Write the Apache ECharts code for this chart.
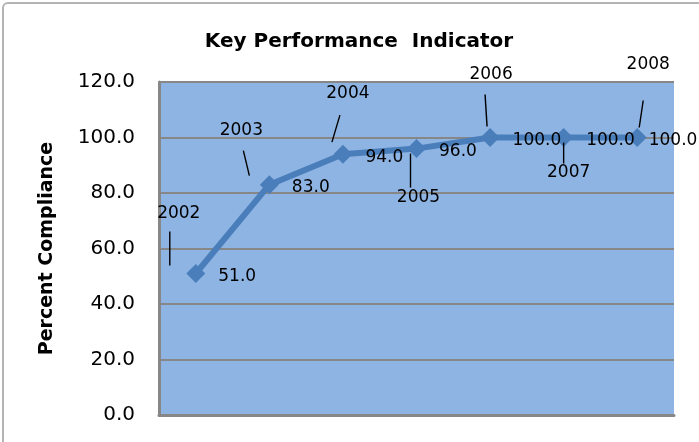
<!DOCTYPE html>
<html>
<head>
<meta charset="utf-8">
<script src="https://cdn.jsdelivr.net/npm/echarts@6/dist/echarts.min.js"></script>
<style>
  html, body { margin: 0; padding: 0; background: #fff; overflow: hidden; }
  #chart { width: 699px; height: 442px; }
  .frame {
    position: absolute; left: 2px; top: 2px; width: 740px; height: 480px;
    border: 2px solid #b4b4b4; border-radius: 6px; pointer-events: none;
  }
</style>
</head>
<body>
<div id="chart"></div>
<div class="frame"></div>
<script>
const years = ["2002", "2003", "2004", "2005", "2006", "2007", "2008"];
const compliance = [51.0, 83.0, 94.0, 96.0, 100.0, 100.0, 100.0];
const yTicks = [0, 20, 40, 60, 80, 100, 120];

// where each year caption and its little leader line sit, relative to the point (px)
const yearOffsets = [
  { text: [-17, -60], line: [-26, -42, -26, -8] },
  { text: [-28, -54], line: [-26, -34, -20, -9] },
  { text: [5, -61], line: [-3, -39, -11, -12] },
  { text: [2, 49], line: [-6, 5, -6, 39] },
  { text: [1, -63], line: [-5, -43, -3, -11] },
  { text: [5, 35], line: [0, 5, 0, 26] },
  { text: [11, -73], line: [6, -37, 2, -10] },
];

const chart = echarts.init(document.getElementById("chart"));
const gray = "#878787";

const option = {
  animation: false,
  title: {
    text: "Key Performance  Indicator",
    left: 354,
    top: 27,
    textAlign: "center",
    textStyle: { fontFamily: "DejaVu Sans", fontWeight: "bold", fontSize: 20, color: "#000" },
  },
  grid: {
    left: 159, right: 25, top: 82, bottom: 27,
    show: true, backgroundColor: "#8EB4E3", borderWidth: 0,
  },
  xAxis: {
    type: "category",
    data: years,
    boundaryGap: true,
    axisLabel: { show: false },
    axisTick: { show: false },
    axisLine: { lineStyle: { color: gray, width: 3 } },
  },
  yAxis: {
    type: "value",
    min: yTicks[0],
    max: yTicks[yTicks.length - 1],
    interval: 20,
    name: "Percent Compliance",
    nameLocation: "middle",
    nameGap: 102,
    nameTextStyle: { fontFamily: "DejaVu Sans", fontWeight: "bold", fontSize: 19, color: "#000" },
    axisLine: { show: true, lineStyle: { color: gray, width: 3 } },
    axisTick: { show: false },
    axisLabel: {
      margin: 24,
      fontFamily: "DejaVu Sans",
      fontSize: 20,
      color: "#000",
      padding: [6, 0, 0, 0],
      formatter: (v) => v.toFixed(1),
    },
    splitLine: { lineStyle: { color: gray, width: 2 } },
  },
  series: [
    {
      type: "line",
      data: compliance.map((v, i) => ({
        value: v,
        label: i === compliance.length - 1 ? { distance: 2 } : undefined,
      })),
      symbol: "diamond",
      symbolSize: 19,
      lineStyle: { color: "#4A7EBB", width: 6 },
      itemStyle: { color: "#4A7EBB" },
      label: {
        show: true,
        position: "right",
        distance: 13,
        offset: [0, 3],
        fontFamily: "DejaVu Sans",
        fontSize: 17,
        color: "#000",
        formatter: (p) => p.value.toFixed(1),
      },
      z: 2,
    },
    {
      type: "custom",
      data: compliance.map((v, i) => [i, v]),
      clip: false,
      silent: true,
      z: 3,
      renderItem: (params, api) => {
        const i = api.value(0);
        const p = api.coord([i, api.value(1)]);
        const o = yearOffsets[i];
        return {
          type: "group",
          children: [
            {
              type: "line",
              shape: { x1: p[0] + o.line[0], y1: p[1] + o.line[1], x2: p[0] + o.line[2], y2: p[1] + o.line[3] },
              style: { stroke: "#000", lineWidth: 1.4 },
            },
            {
              type: "text",
              x: p[0] + o.text[0],
              y: p[1] + o.text[1],
              style: {
                text: years[i],
                fontFamily: "DejaVu Sans",
                fontSize: 17,
                fill: "#000",
                align: "center",
                verticalAlign: "middle",
              },
            },
          ],
        };
      },
    },
  ],
};

chart.setOption(option);
</script>
</body>
</html>
